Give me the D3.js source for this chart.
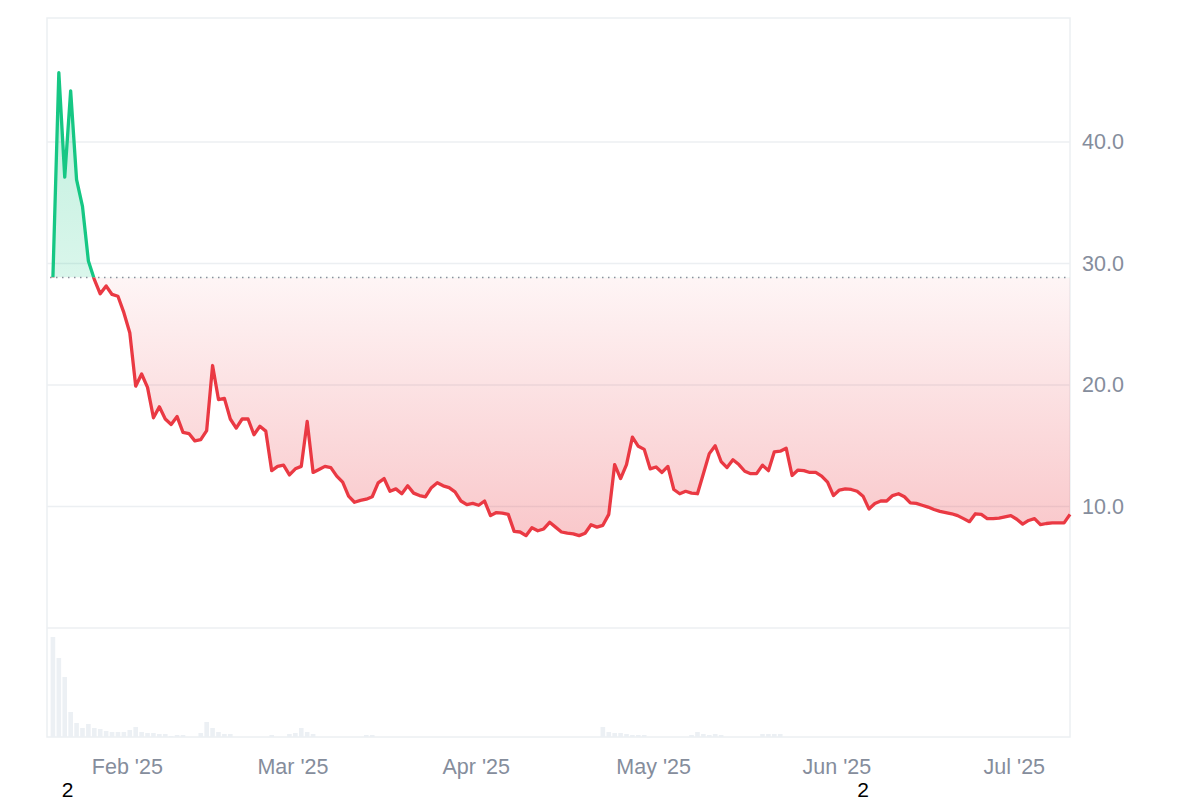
<!DOCTYPE html>
<html>
<head>
<meta charset="utf-8">
<script src="https://cdn.jsdelivr.net/npm/d3@7"></script>
<style>
  html, body { margin: 0; padding: 0; background: #ffffff; }
  svg { display: block; font-family: "Liberation Sans", Arial, sans-serif; }
</style>
</head>
<body>
<svg id="chart" width="1200" height="800"></svg>
<script>
// ---------- data ----------
const startDay = "2025-01-19";          // first daily observation
const prices = [
  28.85, 45.7, 37.1, 44.2, 36.9, 34.7, 30.2, 28.7, 27.5, 28.15,
  27.45, 27.3, 25.95, 24.3, 19.9, 20.9, 19.8, 17.3, 18.2, 17.2,
  16.75, 17.4, 16.1, 16.0, 15.4, 15.5, 16.25, 21.6, 18.8, 18.9,
  17.2, 16.45, 17.2, 17.2, 15.9, 16.6, 16.2, 12.95, 13.3, 13.4,
  12.6, 13.1, 13.3, 17.0, 12.8, 13.05, 13.3, 13.2, 12.5, 12.0,
  10.85, 10.35, 10.5, 10.6, 10.8, 11.95, 12.3, 11.25, 11.45, 11.05,
  11.7, 11.1, 10.9, 10.8, 11.55, 11.95, 11.7, 11.55, 11.2, 10.45,
  10.15, 10.25, 10.1, 10.45, 9.25, 9.5, 9.45, 9.35, 7.95, 7.9,
  7.6, 8.25, 8.0, 8.15, 8.7, 8.3, 7.9, 7.8, 7.75, 7.6,
  7.8, 8.5, 8.3, 8.45, 9.35, 13.45, 12.3, 13.45, 15.7, 14.95,
  14.7, 13.1, 13.25, 12.8, 13.3, 11.4, 11.05, 11.25, 11.1, 11.05,
  12.7, 14.35, 15.0, 13.7, 13.2, 13.85, 13.45, 12.9, 12.7, 12.7,
  13.4, 12.95, 14.5, 14.55, 14.8, 12.55, 13.0, 12.95, 12.8, 12.8,
  12.5, 12.0, 10.9, 11.35, 11.45, 11.4, 11.25, 10.85, 9.8, 10.25,
  10.45, 10.45, 10.9, 11.05, 10.8, 10.3, 10.25, 10.1, 9.95, 9.75,
  9.6, 9.5, 9.4, 9.25, 9.0, 8.75, 9.4, 9.35, 9.0, 9.0,
  9.05, 9.15, 9.25, 8.95, 8.55, 8.85, 9.0, 8.5, 8.6, 8.65,
  8.65, 8.65, 9.35
];
const volumes = [
  100, 79, 60, 25, 14, 9, 13, 9, 8, 6,
  5, 5, 5, 7, 10, 5, 4, 4, 3, 3,
  1, 2, 2, 0, 0, 4, 15, 9, 5, 3,
  3, 0, 0, 0, 0, 0, 0, 2, 0, 0,
  3, 4, 9, 5, 3, 0, 0, 0, 0, 0,
  0, 0, 0, 2, 2, 0, 0, 0, 0, 0,
  0, 0, 0, 0, 0, 0, 0, 0, 0, 0,
  0, 0, 0, 0, 0, 0, 0, 0, 0, 0,
  0, 0, 0, 0, 0, 0, 0, 0, 0, 0,
  0, 0, 0, 10, 5, 4, 4, 3, 2, 2,
  2, 0, 0, 0, 0, 0, 0, 0, 2, 5,
  3, 2, 3, 2, 0, 0, 0, 0, 0, 0,
  3, 3, 3, 3, 0, 0, 0, 0, 0, 0,
  0, 0, 0, 0, 0, 0, 0, 0, 0, 0,
  0, 0, 0, 0, 0, 0, 0, 0, 0, 0,
  0, 0, 0, 0, 0, 0, 0, 0, 0, 0,
  0, 0, 0, 0, 0, 0, 0, 0, 0, 0,
  0, 0, 0
];
const monthTicks = ["2025-02-01", "2025-03-01", "2025-04-01", "2025-05-01", "2025-06-01", "2025-07-01"];
const monthLabels = ["Feb '25", "Mar '25", "Apr '25", "May '25", "Jun '25", "Jul '25"];
const priceTicks = [10, 20, 30, 40];
const markerLabels = ["2", "2"];
const markerDates = ["2025-01-22T00", "2025-06-05T12"];

// ---------- setup ----------
const parse = d3.utcParse("%Y-%m-%d");
const parseH = d3.utcParse("%Y-%m-%dT%H");
const day0 = d3.utcHour.offset(parse(startDay), 12);
const dates = prices.map((_, i) => d3.utcDay.offset(day0, i));
const data = dates.map((d, i) => ({ date: d, price: prices[i], vol: volumes[i] }));

const L = 47, R = 1070, T = 18, PB = 628, VB = 737;
const svg = d3.select("#chart");

const x = d3.scaleUtc()
  .domain([d3.utcDay.offset(day0, -1), dates[dates.length - 1]])
  .range([L, R]);
const y = d3.scaleLinear().domain([0, 50.2]).range([PB, T]);
const yv = d3.scaleLinear().domain([0, 109]).range([VB, PB]);

const base = prices[0];
const yBase = y(base);

// defs
const defs = svg.append("defs");
const rg = defs.append("linearGradient").attr("id", "redGrad")
  .attr("gradientUnits", "userSpaceOnUse")
  .attr("x1", 0).attr("x2", 0).attr("y1", yBase).attr("y2", y(7.5));
rg.append("stop").attr("offset", 0).attr("stop-color", "#ea3943").attr("stop-opacity", 0.05);
rg.append("stop").attr("offset", 1).attr("stop-color", "#ea3943").attr("stop-opacity", 0.28);
const gg = defs.append("linearGradient").attr("id", "greenGrad")
  .attr("gradientUnits", "userSpaceOnUse")
  .attr("x1", 0).attr("x2", 0).attr("y1", y(46)).attr("y2", yBase);
gg.append("stop").attr("offset", 0).attr("stop-color", "#16c784").attr("stop-opacity", 0.28);
gg.append("stop").attr("offset", 1).attr("stop-color", "#16c784").attr("stop-opacity", 0.16);

defs.append("clipPath").attr("id", "clipAbove").append("rect")
  .attr("x", L).attr("y", T - 5).attr("width", R - L + 5).attr("height", yBase - T + 5);
defs.append("clipPath").attr("id", "clipBelow").append("rect")
  .attr("x", L).attr("y", yBase).attr("width", R - L + 5).attr("height", PB - yBase);

// grid lines
svg.append("g").selectAll("line").data(priceTicks.concat([0])).join("line")
  .attr("x1", L).attr("x2", R)
  .attr("y1", d => y(d)).attr("y2", d => y(d))
  .attr("stroke", "#eceff2").attr("stroke-width", 1.5);

// plot frame
svg.append("rect").attr("x", L).attr("y", T).attr("width", R - L).attr("height", VB - T)
  .attr("fill", "none").attr("stroke", "#eceff2").attr("stroke-width", 1.5);

// volume bars
const bw = 4.6;
svg.append("g").selectAll("rect").data(data.filter(d => d.vol > 0)).join("rect")
  .attr("x", d => x(d.date) - bw / 2)
  .attr("width", bw)
  .attr("y", d => yv(d.vol))
  .attr("height", d => yv(0) - yv(d.vol))
  .attr("fill", "#ecf0f4");

// areas
const area = d3.area().x(d => x(d.date)).y0(yBase).y1(d => y(d.price));
svg.append("path").datum(data).attr("d", area)
  .attr("fill", "url(#greenGrad)").attr("clip-path", "url(#clipAbove)");
svg.append("path").datum(data).attr("d", area)
  .attr("fill", "url(#redGrad)").attr("clip-path", "url(#clipBelow)");

// baseline dotted
svg.append("line").attr("x1", L + 3).attr("x2", R).attr("y1", yBase).attr("y2", yBase)
  .attr("stroke", "#8a909c").attr("stroke-width", 1.5).attr("stroke-dasharray", "1.5,4.5");

// lines
const line = d3.line().x(d => x(d.date)).y(d => y(d.price));
svg.append("path").datum(data).attr("d", line)
  .attr("fill", "none").attr("stroke", "#16c784").attr("stroke-width", 3.3)
  .attr("stroke-linejoin", "round").attr("clip-path", "url(#clipAbove)");
svg.append("path").datum(data).attr("d", line)
  .attr("fill", "none").attr("stroke", "#ea3943").attr("stroke-width", 3.3)
  .attr("stroke-linejoin", "round").attr("clip-path", "url(#clipBelow)");

// y axis (right)
const yAxis = d3.axisRight(y).tickValues(priceTicks).tickFormat(d3.format(".1f")).tickSize(0).tickPadding(0);
const ya = svg.append("g").attr("transform", `translate(${R + 12},0)`).call(yAxis);
ya.select(".domain").remove();
ya.selectAll("text").attr("font-size", 21.5).attr("fill", "#858d9c")
  .attr("font-family", "'Liberation Sans', Arial, sans-serif");

// x axis
const xAxis = d3.axisBottom(x).tickValues(monthTicks.map(parse))
  .tickFormat((d, i) => monthLabels[i]).tickSize(0).tickPadding(0);
const xa = svg.append("g").attr("transform", `translate(0,${VB + 22})`).call(xAxis);
xa.select(".domain").remove();
xa.selectAll("text").attr("font-size", 21.5).attr("fill", "#858d9c")
  .attr("font-family", "'Liberation Sans', Arial, sans-serif");

// stray markers
svg.append("g").selectAll("text").data(markerLabels).join("text")
  .attr("x", (d, i) => x(parseH(markerDates[i])))
  .attr("y", 797)
  .attr("text-anchor", "middle")
  .attr("font-size", 21).attr("fill", "#000")
  .text(d => d);
</script>
</body>
</html>
